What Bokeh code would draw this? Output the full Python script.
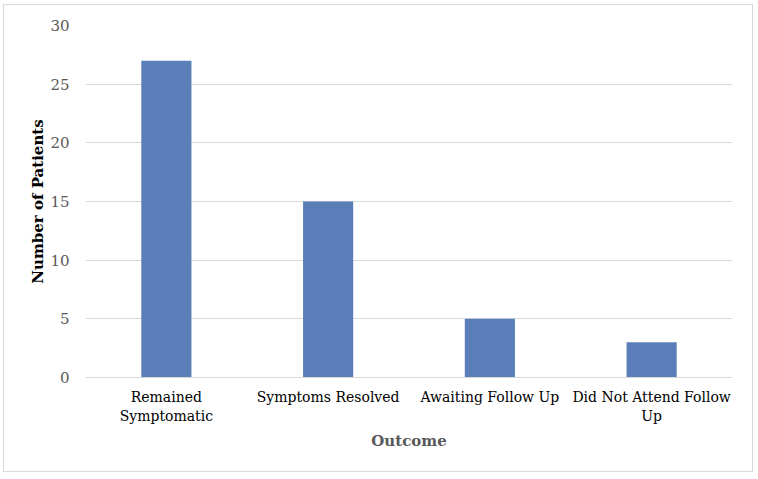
from bokeh.plotting import figure
from bokeh.models import ColumnDataSource, FixedTicker
from bokeh.embed import file_html
from bokeh.resources import INLINE

categories = ["Remained\nSymptomatic", "Symptoms Resolved", "Awaiting Follow Up", "Did Not Attend Follow\nUp"]
patients = [27, 15, 5, 3]
y_ticks = [0, 5, 10, 15, 20, 25, 30]

src = ColumnDataSource(dict(cat=categories, val=patients))

p = figure(x_range=categories, y_range=(0, 30), width=750, height=468,
           output_backend="svg", toolbar_location=None,
           min_border_left=81, min_border_right=22, min_border_top=20, min_border_bottom=96)
p.vbar(x="cat", top="val", width=0.31, source=src, color="#5a7fb8", line_color=None)

p.outline_line_color = None
p.styles = {"border": "1px solid #d9d9d9", "margin-left": "3px", "margin-top": "4px"}
p.xgrid.grid_line_color = None
p.ygrid.grid_line_color = "#d9d9d9"
p.ygrid.ticker = FixedTicker(ticks=y_ticks)
p.x_range.range_padding = 0

font = "DejaVu Serif"
p.yaxis.ticker = FixedTicker(ticks=y_ticks)
p.yaxis.axis_line_color = None
p.yaxis.major_tick_line_color = None
p.yaxis.minor_tick_line_color = None
p.yaxis.major_label_text_font = font
p.yaxis.major_label_text_font_size = "15px"
p.yaxis.major_label_text_color = "#595959"
p.yaxis.major_label_standoff = 10
p.yaxis.axis_label = "Number of Patients"
p.yaxis.axis_label_text_font = font
p.yaxis.axis_label_text_font_style = "bold"
p.yaxis.axis_label_text_font_size = "15px"
p.yaxis.axis_label_text_color = "#000000"
p.yaxis.axis_label_standoff = 0

p.xaxis.axis_line_color = "#d9d9d9"
p.xaxis.major_tick_line_color = None
p.xaxis.minor_tick_line_color = None
p.xaxis.major_label_text_font = font
p.xaxis.major_label_text_font_size = "14px"
p.xaxis.major_label_text_color = "#000000"
p.xaxis.major_label_standoff = 5
p.xaxis.axis_label = "Outcome"
p.xaxis.axis_label_text_font = font
p.xaxis.axis_label_text_font_style = "bold"
p.xaxis.axis_label_text_font_size = "15px"
p.xaxis.axis_label_text_color = "#595959"
p.xaxis.axis_label_standoff = 5

open("out.html", "w").write(file_html(p, INLINE))
